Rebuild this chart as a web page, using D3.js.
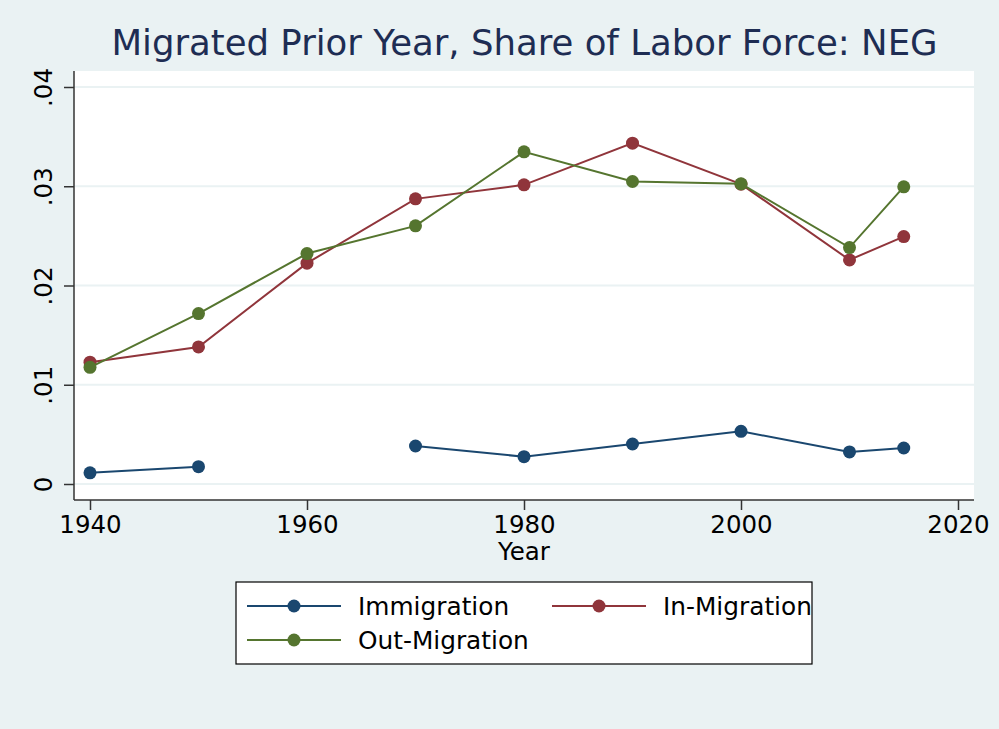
<!DOCTYPE html>
<html><head><meta charset="utf-8">
<script src="https://cdn.jsdelivr.net/npm/d3@7"></script>
<style>html,body{margin:0;padding:0;background:#eaf2f3;}svg{display:block;}</style>
</head><body>
<script>
const years = [1940, 1950, 1960, 1970, 1980, 1990, 2000, 2010, 2015];
const immigration = [0.00113, 0.00175, null, 0.00383, 0.00275, 0.00403, 0.00531, 0.00323, 0.00363];
const inMigration = [0.01227, 0.01381, 0.02225, 0.02873, 0.03014, 0.03434, 0.03021, 0.02258, 0.02493];
const outMigration = [0.01176, 0.01717, 0.02322, 0.02601, 0.03347, 0.03048, 0.03024, 0.02382, 0.02994];
const xTicks = [1940, 1960, 1980, 2000, 2020];
const yTicks = [0, 0.01, 0.02, 0.03, 0.04];
const yTickLabels = ["0", ".01", ".02", ".03", ".04"];
const seriesNames = ["Immigration", "In-Migration", "Out-Migration"];
const colors = ["#1a476f", "#90353b", "#55752f"];

const W = 999, H = 729;
const svg = d3.select("body").append("svg").attr("width", W).attr("height", H);
svg.append("rect").attr("width", W).attr("height", H).attr("fill", "#eaf2f3");

const plot = {left: 74, right: 974, top: 71, bottom: 500};
svg.append("rect").attr("x", plot.left).attr("y", plot.top)
  .attr("width", plot.right - plot.left).attr("height", plot.bottom - plot.top).attr("fill", "#ffffff");

const x = d3.scaleLinear().domain([1940, 2020]).range([90, 958]);
const y = d3.scaleLinear().domain([0, 0.04]).range([484, 87]);

// gridlines
svg.append("g").selectAll("line").data(yTicks).join("line")
  .attr("x1", plot.left).attr("x2", plot.right)
  .attr("y1", d => y(d)).attr("y2", d => y(d))
  .attr("stroke", "#eaf2f3").attr("stroke-width", 2);

// y axis
const yAxis = d3.axisLeft(y).tickValues(yTicks).tickFormat((d, i) => yTickLabels[i]).tickSize(10).tickPadding(0);
const gy = svg.append("g").attr("transform", `translate(${plot.left},0)`).call(yAxis);
gy.select(".domain").attr("d", `M0,${plot.top}V${plot.bottom}`).attr("stroke", "#333").attr("stroke-width", 1.5);
gy.selectAll(".tick line").attr("stroke", "#333").attr("stroke-width", 1.5);
gy.selectAll(".tick text").attr("font-family", "DejaVu Sans").attr("font-size", 24.5).attr("fill", "#000")
  .attr("transform", "translate(-31,0) rotate(-90)").attr("text-anchor", "middle").attr("x", 0).attr("dy", "0.35em");

// x axis
const xAxis = d3.axisBottom(x).tickValues(xTicks).tickFormat(d3.format("d")).tickSize(10).tickPadding(0);
const gx = svg.append("g").attr("transform", `translate(0,${plot.bottom})`).call(xAxis);
gx.select(".domain").attr("d", `M${plot.left},0H${plot.right}`).attr("stroke", "#333").attr("stroke-width", 1.5);
gx.selectAll(".tick line").attr("stroke", "#333").attr("stroke-width", 1.5);
gx.selectAll(".tick text").attr("font-family", "DejaVu Sans").attr("font-size", 24.5).attr("fill", "#000")
  .attr("y", 33).attr("dy", 0);

svg.append("text").attr("x", (x(1940) + x(2020)) / 2).attr("y", 560).attr("text-anchor", "middle")
  .attr("font-family", "DejaVu Sans").attr("font-size", 24.5).attr("fill", "#000").text("Year");

// title
svg.append("text").attr("x", 524.5).attr("y", 55).attr("text-anchor", "middle")
  .attr("font-family", "DejaVu Sans").attr("font-size", 35.5).attr("fill", "#1e2d53")
  .text("Migrated Prior Year, Share of Labor Force: NEG");

// series
const allSeries = [immigration, inMigration, outMigration];
const line = d3.line().defined(d => d.v !== null).x(d => x(d.yr)).y(d => y(d.v));
allSeries.forEach((vals, i) => {
  const data = years.map((yr, j) => ({yr, v: vals[j]}));
  svg.append("path").datum(data).attr("d", line).attr("fill", "none")
    .attr("stroke", colors[i]).attr("stroke-width", 2);
  svg.append("g").selectAll("circle").data(data.filter(d => d.v !== null)).join("circle")
    .attr("cx", d => x(d.yr)).attr("cy", d => y(d.v)).attr("r", 6.5).attr("fill", colors[i]);
});

// legend
const leg = svg.append("g");
leg.append("rect").attr("x", 236).attr("y", 582).attr("width", 576).attr("height", 82)
  .attr("fill", "#fff").attr("stroke", "#000").attr("stroke-width", 1.2);
const legPos = [{lx: 247, ly: 606}, {lx: 552, ly: 606}, {lx: 247, ly: 640}];
seriesNames.forEach((name, i) => {
  const p = legPos[i];
  leg.append("line").attr("x1", p.lx).attr("x2", p.lx + 94).attr("y1", p.ly).attr("y2", p.ly)
    .attr("stroke", colors[i]).attr("stroke-width", 2);
  leg.append("circle").attr("cx", p.lx + 47).attr("cy", p.ly).attr("r", 6.5).attr("fill", colors[i]);
  leg.append("text").attr("x", p.lx + 111).attr("y", p.ly).attr("dy", "0.35em")
    .attr("font-family", "DejaVu Sans").attr("font-size", 24.8).attr("fill", "#000").text(name);
});
</script>
</body></html>
